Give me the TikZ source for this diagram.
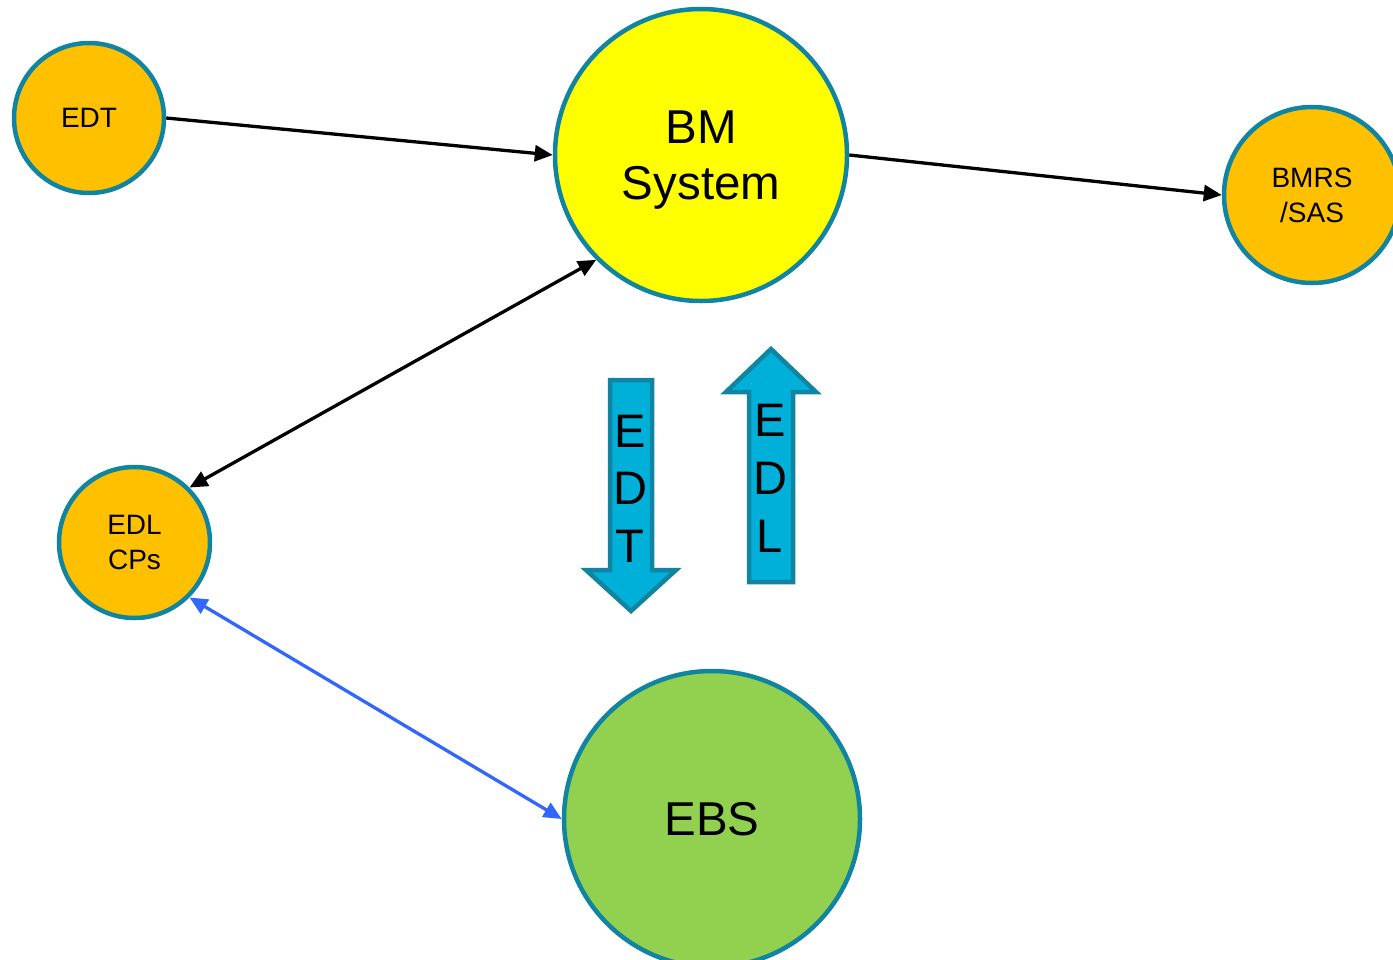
\documentclass[tikz,border=0pt]{standalone}
\usepackage{fontspec}
\setmainfont{Liberation Sans}
\usetikzlibrary{arrows.meta}

\definecolor{edgeteal}{RGB}{16,132,160}
\definecolor{nodeorange}{RGB}{255,192,0}
\definecolor{bmyellow}{RGB}{255,255,0}
\definecolor{ebsgreen}{RGB}{146,208,80}
\definecolor{flowcyan}{RGB}{0,176,216}
\definecolor{linkblue}{RGB}{51,102,255}

\tikzset{
  party/.style = {circle, draw = edgeteal, line width = 4.5bp, fill = nodeorange,
    align = center, text depth = 0pt, inner sep = 0pt},
  smalltext/.style = {font = \fontsize{28bp}{34.5bp}\selectfont},
  bigtext/.style = {font = \fontsize{47.5bp}{56bp}\selectfont},
  link/.style = {line width = 3.3bp, -{Triangle[length = 18bp, width = 16bp]}},
  flow/.style = {draw = edgeteal, line width = 4.5bp, fill = flowcyan, line join = miter},
  flowtext/.style = {font = \fontsize{47bp}{57bp}\selectfont, anchor = base, inner sep = 0pt}
}

\begin{document}
\begin{tikzpicture}[x = 1bp, y = -1bp]
  \useasboundingbox (0,0) rectangle (1393,959);

  \node[party, smalltext, minimum size = 150bp] (edt) at (89,118) {EDT};
  \node[party, bigtext, fill = bmyellow, minimum size = 292bp] (bm) at (701,155) {BM\\System};
  \node[party, smalltext, minimum size = 176bp] (bmrs) at (1312,195) {BMRS\\/SAS};
  \node[party, smalltext, minimum size = 151bp] (edl) at (134.5,542.5) {EDL\\CPs};
  \node[party, bigtext, fill = ebsgreen, minimum size = 296bp] (ebs) at (712,819) {EBS};

  \draw[link] (edt.east) -- (bm.west);
  \draw[link] (bm.east) -- (bmrs.west);
  \draw[link, {Triangle[length = 18bp, width = 16bp]}-{Triangle[length = 18bp, width = 16bp]}]
    (bm.south west) -- (edl.north east);
  \draw[link, linkblue, {Triangle[length = 18bp, width = 16bp]}-{Triangle[length = 18bp, width = 16bp]}]
    (edl.south east) -- (ebs.west);

  % EDT flow down, EDL flow up
  \draw[flow] (610,380) -- (652,380) -- (652,570) -- (676,570) -- (631,611)
    -- (586,570) -- (610,570) -- cycle;
  \draw[flow] (749,582) -- (793,582) -- (793,392) -- (816,392) -- (771,349)
    -- (726,392) -- (749,392) -- cycle;

  \foreach \ch [count = \i] in {E,D,T}
    \node[flowtext] (edtflow\i) at (630,447+57.5*\i-57.5) {\ch};
  \foreach \ch [count = \i] in {E,D,L}
    \node[flowtext] (edlflow\i) at (770,436+58*\i-58) {\ch};
\end{tikzpicture}
\end{document}
